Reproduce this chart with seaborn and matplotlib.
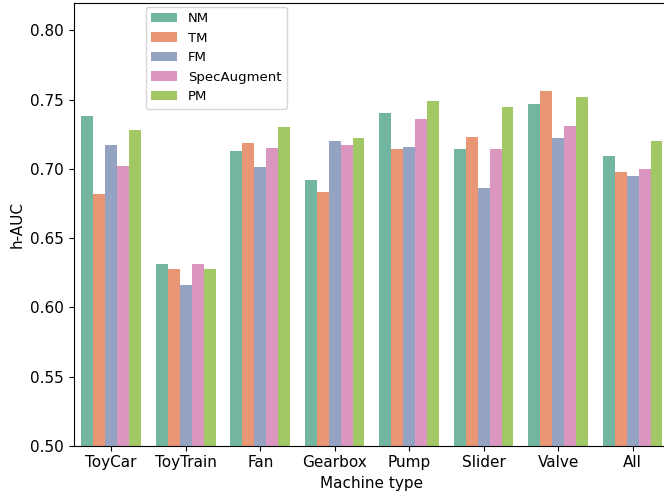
import pandas as pd
import matplotlib
matplotlib.use("Agg")
import matplotlib.pyplot as plt
import seaborn as sns

# values
machines = ['ToyCar', 'ToyTrain', 'Fan', 'Gearbox', 'Pump', 'Slider', 'Valve', 'All']
methods = ['NM', 'TM', 'FM', 'SpecAugment', 'PM']

nm = [0.738, 0.631, 0.713, 0.692, 0.740, 0.714, 0.747, 0.709]
tm = [0.682, 0.628, 0.719, 0.683, 0.714, 0.723, 0.756, 0.698]
fm = [0.717, 0.616, 0.701, 0.720, 0.716, 0.686, 0.722, 0.695]
spec = [0.702, 0.631, 0.715, 0.717, 0.736, 0.714, 0.731, 0.700]
pm = [0.728, 0.628, 0.730, 0.722, 0.749, 0.745, 0.752, 0.720]

scores = [nm, tm, fm, spec, pm]
rows = []
for method, vals in zip(methods, scores):
    for m, v in zip(machines, vals):
        rows.append({'Machine type': m, 'method': method, 'h-AUC': v})
df = pd.DataFrame(rows)

fig = plt.figure(figsize=(6.64, 4.93), dpi=100)
ax = fig.add_axes([0.1114, 0.0959, 0.8975, 0.8986])
sns.barplot(data=df, x='Machine type', y='h-AUC', hue='method',
            hue_order=methods, order=machines, palette='Set2', ax=ax)
ax.set_ylim(0.5, 0.82)
ax.set_yticks([0.50, 0.55, 0.60, 0.65, 0.70, 0.75, 0.80])
ax.set_yticklabels(['0.50', '0.55', '0.60', '0.65', '0.70', '0.75', '0.80'])
ax.tick_params(labelsize=11)
ax.set_xlabel('Machine type', fontsize=11)
ax.set_ylabel('h-AUC', fontsize=11)
ax.legend(title=None, loc='upper left', bbox_to_anchor=(0.109, 1.006), fontsize=9.5)

plt.savefig('out.png', dpi=100)
